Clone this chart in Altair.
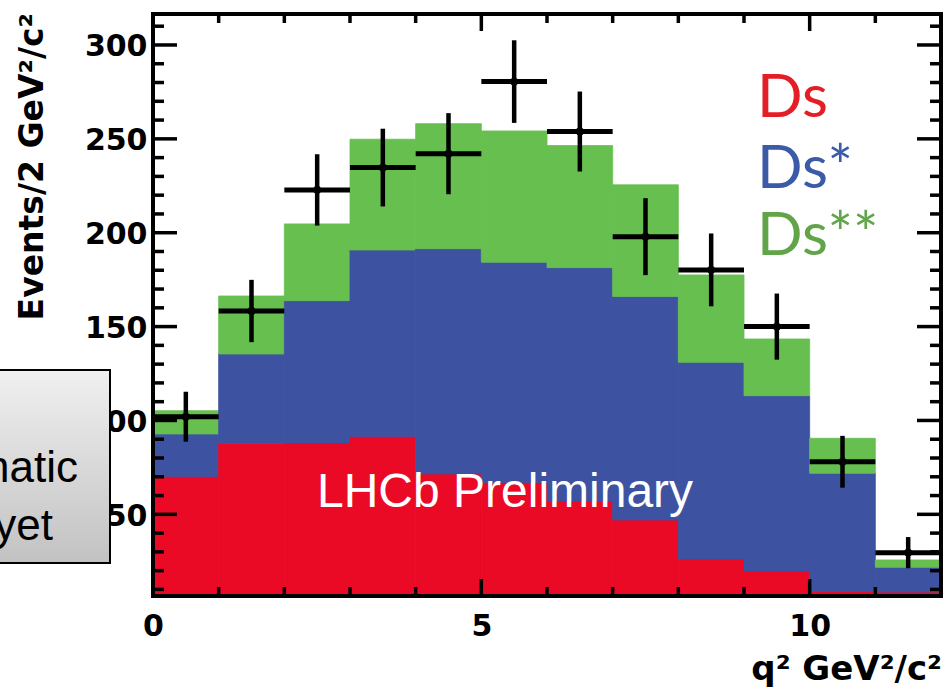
import altair as alt
import pandas as pd

# ---------------- data ----------------
q2_bin_low = [0, 1, 2, 3, 4, 5, 6, 7, 8, 9, 10, 11]
q2_bin_high = [1, 2, 3, 4, 5, 6, 7, 8, 9, 10, 11, 12]
q2_bin_center = [0.5, 1.5, 2.5, 3.5, 4.5, 5.5, 6.5, 7.5, 8.5, 9.5, 10.5, 11.5]

ds = [70.1, 87.9, 88.0, 91.4, 71.5, 66.9, 57.1, 47.0, 26.2, 19.8, 8.9, 8.6]
ds_star = [22.7, 47.5, 75.8, 99.4, 120.0, 117.4, 124.3, 119.0, 104.8, 93.4, 63.0, 13.2]
ds_2star = [12.4, 30.9, 40.9, 59.0, 66.6, 69.9, 65.0, 59.5, 46.5, 30.2, 18.6, 3.9]

data_counts = [102.0, 158.3, 222.8, 234.7, 242.1, 280.5, 253.9, 197.9, 180.2, 150.0, 78.0, 29.6]
data_errors = [13.3, 16.6, 19.0, 20.7, 21.6, 22.0, 21.3, 20.5, 19.4, 17.6, 13.8, 8.3]

components = ["Ds", "Ds*", "Ds**"]
fill_colors = ["#EA0A25", "#3D52A1", "#66BF4F"]
legend_colors = ["#E31E25", "#3B5BA9", "#62A548"]

y_major_ticks = [50, 100, 150, 200, 250, 300]
y_minor_ticks = [10, 20, 30, 40, 60, 70, 80, 90, 110, 120, 130, 140, 160, 170, 180, 190,
                 210, 220, 230, 240, 260, 270, 280, 290, 310]
x_major_ticks = [5, 10]
x_minor_ticks = [1, 2, 3, 4, 6, 7, 8, 9, 11]
x_label_values = [0, 5, 10]

x_title = "q² GeV²/c²"
y_title = "Events/2 GeV²/c²"
watermark = "LHCb Preliminary"
box_lines = ["natic", "yet"]

# ---------------- tables ----------------
rows = []
for i in range(len(q2_bin_low)):
    cum = 0.0
    for comp, vals in zip(components, [ds, ds_star, ds_2star]):
        rows.append({"lo": q2_bin_low[i], "hi": q2_bin_high[i], "y0": cum,
                     "y1": cum + vals[i], "comp": comp})
        cum += vals[i]
hist_df = pd.DataFrame(rows)

pts_df = pd.DataFrame({
    "lo": q2_bin_low, "hi": q2_bin_high, "xc": q2_bin_center,
    "val": data_counts,
    "ylo": [v - e for v, e in zip(data_counts, data_errors)],
    "yhi": [v + e for v, e in zip(data_counts, data_errors)],
})

W, H = 788, 582
FONT_AX = "DejaVu Sans"

xs = alt.Scale(domain=[0, 12], nice=False, zero=False)
ys = alt.Scale(domain=[6.5, 316.5], nice=False, zero=False)

x_axis = alt.Axis(values=x_label_values, format="d", labelFont=FONT_AX, labelFontWeight="bold",
                  labelFontSize=30, labelColor="black", labelFlush=False, labelOverlap=False,
                  ticks=False, domain=False, grid=False, title=None, labelPadding=15)
y_axis = alt.Axis(values=y_major_ticks, format="d", labelFont=FONT_AX, labelFontWeight="bold",
                  labelFontSize=30, labelColor="black", labelFlush=False, labelOverlap=False,
                  ticks=False, domain=False, grid=False, title=None, labelPadding=6, labelOffset=2)


def X(field):
    return alt.X(field, scale=xs, axis=x_axis)


def Y(field):
    return alt.Y(field, scale=ys, axis=y_axis)


comp_scale = alt.Scale(domain=components, range=fill_colors)
hist = alt.Chart(hist_df).mark_rect(clip=True, strokeWidth=0.8).encode(
    x=X("lo:Q"), x2="hi:Q", y=Y("y0:Q"), y2="y1:Q",
    color=alt.Color("comp:N", scale=comp_scale, legend=None),
    stroke=alt.Stroke("comp:N", scale=comp_scale, legend=None),
)

vbars = alt.Chart(pts_df).mark_rule(color="black", strokeWidth=4.5).encode(
    x=X("xc:Q"), y=Y("ylo:Q"), y2="yhi:Q")
hbars = alt.Chart(pts_df).mark_rule(color="black", strokeWidth=5).encode(
    x=X("lo:Q"), x2="hi:Q", y=Y("val:Q"))
points = alt.Chart(pts_df).mark_point(filled=True, shape="circle", size=70, color="black",
                                      opacity=1).encode(x=X("xc:Q"), y=Y("val:Q"))

# frame + inward ticks (ROOT style)
frame = alt.Chart(pd.DataFrame({"a": [0]})).mark_rect(
    fill="transparent", stroke="black", strokeWidth=4).encode(
    x=alt.value(0), x2=alt.value(W), y=alt.value(0), y2=alt.value(H))

ymaj = pd.DataFrame({"v": y_major_ticks})
ymin = pd.DataFrame({"v": y_minor_ticks})
xmaj = pd.DataFrame({"v": x_major_ticks})
xmin = pd.DataFrame({"v": x_minor_ticks})
tick_layers = []
for df, L in [(ymaj, 24), (ymin, 11)]:
    tick_layers.append(alt.Chart(df).mark_rule(color="black", strokeWidth=3.5).encode(
        y=Y("v:Q"), x=alt.value(0), x2=alt.value(L)))
    tick_layers.append(alt.Chart(df).mark_rule(color="black", strokeWidth=3.5).encode(
        y=Y("v:Q"), x=alt.value(W), x2=alt.value(W - L)))
for df, L in [(xmaj, 17), (xmin, 9)]:
    tick_layers.append(alt.Chart(df).mark_rule(color="black", strokeWidth=3.5).encode(
        x=X("v:Q"), y=alt.value(H), y2=alt.value(H - L)))
    tick_layers.append(alt.Chart(df).mark_rule(color="black", strokeWidth=3.5).encode(
        x=X("v:Q"), y=alt.value(0), y2=alt.value(L)))


def label(text, x, y, **kw):
    return alt.Chart(pd.DataFrame({"t": [text]})).mark_text(**kw).encode(
        text="t:N", x=alt.value(x), y=alt.value(y))


wm = label(watermark, 164, 493, font="Liberation Sans", fontSize=48, color="white",
           align="left", baseline="alphabetic")

legend_layers = [
    label(components[i], 604, yb, font="Lato", fontSize=60, color=legend_colors[i],
          align="left", baseline="alphabetic")
    for i, yb in enumerate([103, 174, 241])
]

grad = alt.LinearGradient(gradient="linear",
                          stops=[alt.GradientStop(offset=0, color="#F0F0F0"),
                                 alt.GradientStop(offset=1, color="#C2C2C2")],
                          x1=0, x2=0, y1=0, y2=1)
box = alt.Chart(pd.DataFrame({"a": [0]})).mark_rect(fill=grad, stroke="black", strokeWidth=2).encode(
    x=alt.value(-175), x2=alt.value(-43), y=alt.value(356), y2=alt.value(549))
box_t1 = label(box_lines[0], -75, 468, font="Liberation Sans", fontSize=44, color="black",
               align="right", baseline="alphabetic")
box_t2 = label(box_lines[1], -100, 526, font="Liberation Sans", fontSize=44, color="black",
               align="right", baseline="alphabetic")

ytitle = label(y_title, -110, -1, font=FONT_AX, fontSize=33, fontWeight="bold", color="black",
               angle=270, align="right", baseline="alphabetic")
xtitle = label(x_title, 789, 666, font=FONT_AX, fontSize=34, fontWeight="bold", color="black",
               align="right", baseline="alphabetic")

chart = alt.layer(
    hist, hbars, vbars, points, frame, *tick_layers, wm, *legend_layers,
    box, box_t1, box_t2, ytitle, xtitle,
).properties(
    width=W, height=H,
    autosize=alt.AutoSizeParams(type="none"),
    padding={"left": 153, "top": 14, "right": 5, "bottom": 93},
    background="white",
).configure_view(stroke=None)

chart.save("out.html", embed_options={"renderer": "svg", "actions": False})
